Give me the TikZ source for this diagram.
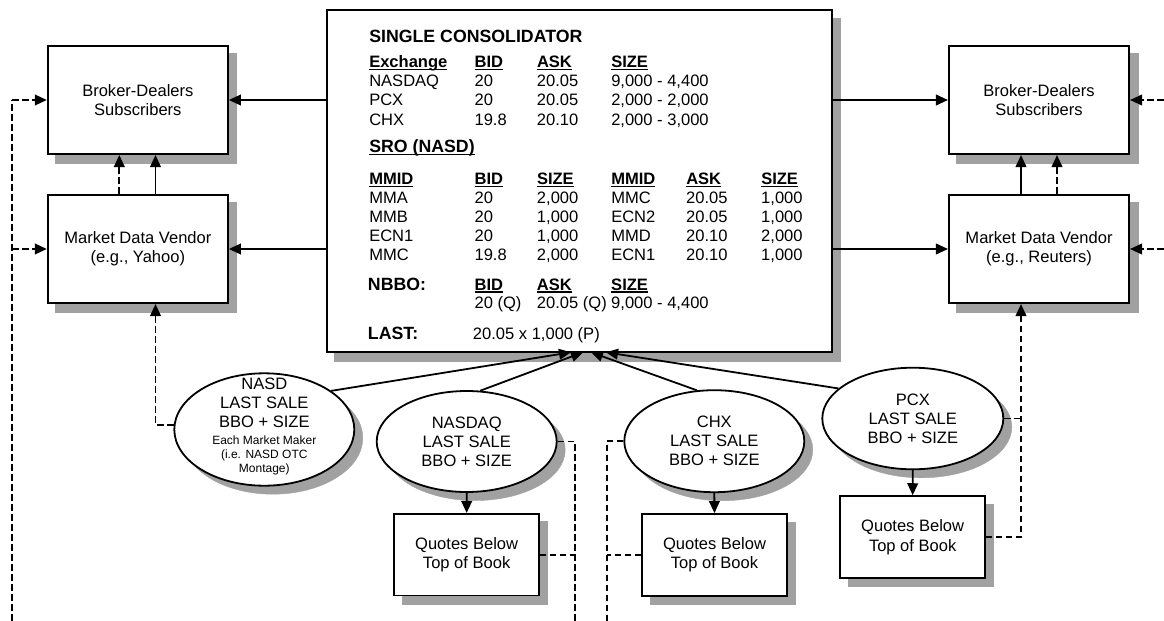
\documentclass[tikz,border=0pt]{standalone}
\usepackage{fontspec}
\setmainfont{Liberation Sans}
\usetikzlibrary{shapes.geometric,arrows.meta,backgrounds}
\newsavebox\ulbox
\newcommand\ulin[1]{\leavevmode\sbox\ulbox{#1}\rlap{\rule[-2pt]{\wd\ulbox}{0.9pt}}\usebox\ulbox}
\begin{document}
\begin{tikzpicture}[x=0.75pt,y=-0.75pt,
  shadowc/.style={fill=black!37,draw=none},
  ellsh/.style={fill=black!37,draw=black!37,line width=0.3pt},
  box/.style={draw,line width=1.35pt,fill=white,inner sep=0pt,align=center,
     minimum width=135.2pt,minimum height=81.2pt,font=\fontsize{12.4}{14.5}\selectfont},
  qbox/.style={box,minimum width=108.4pt,minimum height=61.3pt,font=\fontsize{12.4}{14.8}\selectfont},
  ell/.style={ellipse,draw,line width=1.35pt,fill=white,inner sep=0pt,align=center,
     minimum width=135pt,font=\fontsize{12.4}{14.2}\selectfont},
  txt/.style={inner sep=0pt,anchor=base west,font=\fontsize{12.4}{14.5}\selectfont},
  bigb/.style={txt,font=\fontsize{13.3}{15}\selectfont\bfseries},
  arr/.style={line width=1.35pt,-{Triangle[length=9pt,width=8pt]}},
  dsh/.style={line width=1.35pt,dash pattern=on 5pt off 2.5pt},
  dsharr/.style={dsh,-{Triangle[length=9pt,width=8pt]}}]
\useasboundingbox (0,0) rectangle (1164,621);

% ellipse shadows (filled and stroked in grey, beneath the ellipses)
\filldraw[ellsh] (272.8,438) ellipse [x radius=67.5pt, y radius=42.15pt];
\filldraw[ellsh] (475.2,450) ellipse [x radius=67.5pt, y radius=37.9pt];
\filldraw[ellsh] (722.8,449.7) ellipse [x radius=67.5pt, y radius=38.25pt];
\filldraw[ellsh] (921.3,427) ellipse [x radius=67.9pt, y radius=38.1pt];

% boxes
\node[box] (lbd) at (137.85,100) {Broker-Dealers\\Subscribers};
\node[box] (lmdv) at (137.85,249) {Market Data Vendor\\(e.g., Yahoo)};
\node[box] (rbd) at (1039,100) {Broker-Dealers\\Subscribers};
\node[box] (rmdv) at (1039,249) {Market Data Vendor\\(e.g., Reuters)};
\node[box,minimum width=379pt,minimum height=256.7pt] (cons) at (579.35,181.15) {};

% central text
\node[bigb] (title) at (369,42.7) {SINGLE CONSOLIDATOR};
\node[txt] (exch) at (369,67.3) {\begin{tabular}[t]{@{}p{79pt}@{}p{46.8pt}@{}p{55.7pt}@{}l@{}}
\ulin{\textbf{Exchange}} & \ulin{\textbf{BID}} & \ulin{\textbf{ASK}} & \ulin{\textbf{SIZE}}\\
NASDAQ & 20 & 20.05 & 9,000 - 4,400\\
PCX & 20 & 20.05 & 2,000 - 2,000\\
CHX & 19.8 & 20.10 & 2,000 - 3,000
\end{tabular}};
\node[bigb] (sro) at (369,152.3) {\ulin{SRO (NASD)}};
\node[txt,font=\fontsize{12.4}{14.25}\selectfont] (mmid) at (369,184.7) {\begin{tabular}[t]{@{}p{79pt}@{}p{46.8pt}@{}p{55.7pt}@{}p{56.25pt}@{}p{56.25pt}@{}l@{}}
\ulin{\textbf{MMID}} & \ulin{\textbf{BID}} & \ulin{\textbf{SIZE}} & \ulin{\textbf{MMID}} & \ulin{\textbf{ASK}} & \ulin{\textbf{SIZE}}\\
MMA & 20 & 2,000 & MMC & 20.05 & 1,000\\
MMB & 20 & 1,000 & ECN2 & 20.05 & 1,000\\
ECN1 & 20 & 1,000 & MMD & 20.10 & 2,000\\
MMC & 19.8 & 2,000 & ECN1 & 20.10 & 1,000
\end{tabular}};
\node[bigb] (nbbo) at (367.7,290) {NBBO:};
\node[txt,font=\fontsize{12.4}{13.5}\selectfont] (nbbov) at (474.3,290) {\begin{tabular}[t]{@{}p{46.8pt}@{}p{55.7pt}@{}l@{}}
\ulin{\textbf{BID}} & \ulin{\textbf{ASK}} & \ulin{\textbf{SIZE}}\\
20 (Q) & 20.05 (Q) & 9,000 - 4,400
\end{tabular}};
\node[bigb] (last) at (367.7,339.3) {LAST:};
\node[txt] (lastv) at (472.7,339.3) {20.05 x 1,000 (P)};

% ellipses
\node[ell,minimum height=84.3pt] (nasd) at (264.3,429.5) {};
\node[inner sep=0pt,align=center,font=\fontsize{12.4}{14.25}\selectfont] (nasdt) at (264.3,403) {NASD\\LAST SALE\\BBO + SIZE};
\node[inner sep=0pt,align=center,font=\fontsize{9}{10.6}\selectfont] (nasds) at (264.3,455.4) {Each Market Maker\\(i.e. NASD OTC\\Montage)};
\node[ell,minimum height=75.75pt] (nasdaq) at (466.7,441.5) {NASDAQ\\LAST SALE\\BBO + SIZE};
\node[ell,minimum height=76.5pt] (chx) at (714.3,441.2) {CHX\\LAST SALE\\BBO + SIZE};
\node[ell,minimum width=135.75pt,minimum height=76.2pt] (pcx) at (912.8,418.5) {PCX\\LAST SALE\\BBO + SIZE};

% quotes boxes
\node[qbox] (qnasdaq) at (466.65,554.7) {Quotes Below\\Top of Book};
\node[qbox] (qchx) at (714.5,554.85) {Quotes Below\\Top of Book};
\node[qbox] (qpcx) at (912.65,537) {Quotes Below\\Top of Book};

% box shadows
\begin{scope}[on background layer]
\foreach \n in {lbd,lmdv,rbd,rmdv,cons,qnasdaq,qchx,qpcx}
  \fill[shadowc] ([shift={(8.5,8.5)}]\n.south west) rectangle ([shift={(8.5,8.5)}]\n.north east);
\end{scope}

% helper coordinates
\coordinate (lx) at (155.5,0);
\coordinate (lx2) at (119.3,0);
\coordinate (rx) at (1021,0);
\coordinate (rx2) at (1057,0);
\coordinate (ltop) at (12.3,100);
\coordinate (lbot) at (12.3,621);
\coordinate (rtop) at (1164,100);
\coordinate (xa) at (575,621);
\coordinate (xb) at (606.7,621);
\coordinate (t1) at (571,352.3);
\coordinate (t2) at (583,352.3);
\coordinate (t3) at (591,352.3);
\coordinate (t4) at (606,352.3);

% consolidator outputs
\draw[arr] (cons.west |- lbd.east) -- (lbd.east);
\draw[arr] (cons.west |- lmdv.east) -- (lmdv.east);
\draw[arr] (cons.east |- rbd.west) -- (rbd.west);
\draw[arr] (cons.east |- rmdv.west) -- (rmdv.west);

% vendor to broker-dealers
\draw[arr] (lmdv.north -| lx) -- (lbd.south -| lx);
\draw[dsharr] (lmdv.north -| lx2) -- (lbd.south -| lx2);
\draw[arr] (rmdv.north -| rx) -- (rbd.south -| rx);
\draw[dsharr] (rmdv.north -| rx2) -- (rbd.south -| rx2);

% outer dashed feeds
\draw[dsh] (lbot) -- (ltop);
\draw[dsharr] (ltop) -- (lbd.west);
\draw[dsharr] (ltop |- lmdv.west) -- (lmdv.west);
\draw[dsharr] (rtop) -- (rbd.east);
\draw[dsharr] (rtop |- rmdv.east) -- (rmdv.east);

% NASD to vendor
\draw[dsharr] (nasd.177) -| (lx |- lmdv.south);

% bottom dashed
\draw[dsh] (nasdaq.east) -| (xa);
\draw[dsh] (qnasdaq.east) -- (qnasdaq.east -| xa);
\draw[dsh] (chx.west) -| (xb);
\draw[dsh] (qchx.west) -- (qchx.west -| xb);
\draw[dsharr] (qpcx.east) -| (rx |- rmdv.south);
\draw[dsh] (pcx.east) -- (pcx.east -| rx);

% ellipses to quotes
\draw[arr] (nasdaq.south) -- (qnasdaq.north);
\draw[arr] (chx.south) -- (qchx.north);
\draw[arr] (pcx.south) -- (qpcx.north);

% ellipses to consolidator
\draw[arr] (nasd.30) -- (t1);
\draw[arr] (nasdaq.75) -- (t2);
\draw[arr] (chx.109) -- (t3);
\draw[arr] (pcx.158) -- (t4);
\end{tikzpicture}
\end{document}
